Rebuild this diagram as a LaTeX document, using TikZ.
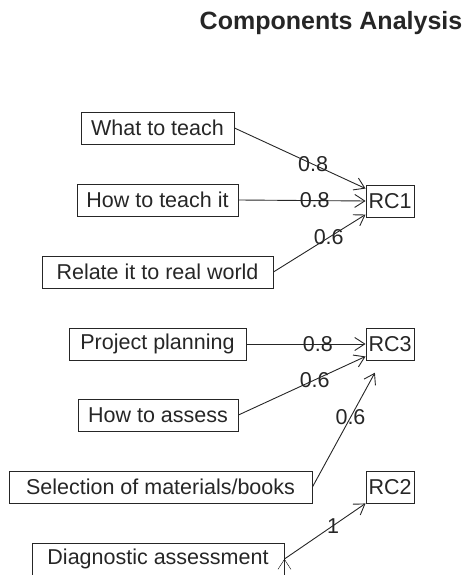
\documentclass[tikz,border=0pt]{standalone}
\usepackage{fontspec}
\setmainfont{Liberation Sans}
\usepackage{tikz}
\usetikzlibrary{arrows.meta, positioning}
\definecolor{tinta}{gray}{0.15}
\tikzset{
	->, % arcos dirigidos
	>={Straight Barb[length=10pt,width=13pt]}, % punta abierta
	x=1pt, y=1pt, % unidades en puntos
	every node/.style={text=tinta}, % color del texto
	every edge/.style={draw=tinta, line width=0.9pt}, % propiedades de los arcos
	item/.style={draw=tinta, line width=0.9pt, rectangle, inner xsep=0pt, minimum height=32pt, font=\fontsize{21.5}{24}\selectfont}, % variables observadas
	comp/.style={item, minimum width=48pt}, % componentes
	peso/.style={font=\fontsize{21.5}{24}\selectfont, inner sep=0pt} % cargas
}

\begin{document}
\begin{tikzpicture}
				\useasboundingbox (0,0) rectangle (466,575);
				\node[anchor=base, font=\fontsize{25}{28}\selectfont\bfseries] (titulo) at (331,545) {Components Analysis};
				\node[item, minimum width=153pt] (what) at (157.5,447) {What to teach};
				\node[item, minimum width=161pt] (how) at (157.5,375) {How to teach it};
				\node[item, minimum width=231pt] (relate) at (157.5,303) {Relate it to real world};
				\node[item, minimum width=177pt] (project) at (157.5,231) {Project planning};
				\node[item, minimum width=160pt] (assess) at (158,160) {How to assess};
				\node[item, minimum width=303pt] (select) at (160.5,88) {Selection of materials/books};
				\node[item, minimum width=252pt] (diag) at (158,16) {Diagnostic assessment};
				\node[comp] (rc1) at (390,374) {RC1};
				\node[comp] (rc3) at (390,231) {RC3};
				\node[comp] (rc2) at (390,88) {RC2};
				\draw	(what.east) edge node[peso, pos=0.6]{0.8} (rc1.153)
						(how.east) edge node[peso, pos=0.6]{0.8} (rc1.west)
						(relate.east) edge node[peso, pos=0.6]{0.6} (rc1.209)
						
						(project.east) edge node[peso, pos=0.6]{0.8} (rc3.west)
						(assess.east) edge node[peso, pos=0.6]{0.6} (rc3.207)
						(select.east) edge[shorten >=14pt] node[peso, pos=0.55]{0.6} (rc3.243)
						(diag.east) edge node[peso, pos=0.6]{1} (rc2.south west);
			\end{tikzpicture}
\end{document}
